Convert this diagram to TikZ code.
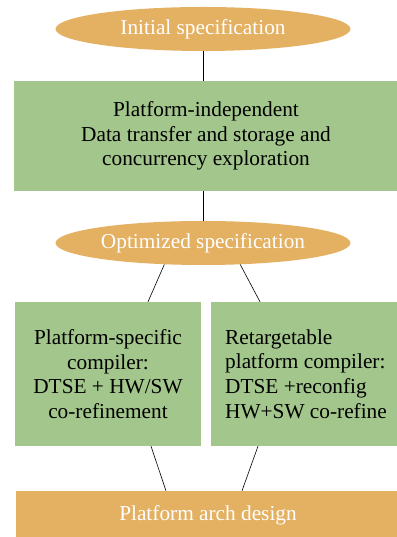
\documentclass[tikz,border=0pt]{standalone}
\usepackage{fontspec}
\setmainfont{Liberation Serif}
\usetikzlibrary{calc, shapes.geometric}
\definecolor{specorange}{RGB}{228,176,98}
\definecolor{stagegreen}{RGB}{162,198,139}

\begin{document}
\begin{tikzpicture}[x=1pt,y=1pt]

         %%%%%%%%%%%%%%%%%%%%%%%%%%%%%%%%%%%%%%%%%%%%%%%%%%%%%%%%%%%%%%%%%%%%%%
         % Parameter
         %%%%%%%%%%%%%%%%%%%%%%%%%%%%%%%%%%%%%%%%%%%%%%%%%%%%%%%%%%%%%%%%%%%%%%
         \def\boxfont{\fontsize{21.3}{24.6}\selectfont}
         \def\specwidth{295}
         \def\specheight{44}
         \def\colwidth{186}
         \def\colheight{144}

         % Stile fuer Ellipsen, Kaesten und Verbindungen
         \tikzset{
            spec/.style={
            ellipse, fill=specorange, text=white,
            minimum width=\specwidth pt, minimum height=\specheight pt,
            inner sep=0pt, font=\boxfont
            },
            stage/.style={
            rectangle, fill=stagegreen, text=black,
            inner sep=0pt, font=\boxfont
            },
            archbox/.style={
            rectangle, fill=specorange, text=white,
            inner sep=0pt, font=\boxfont
            },
            link/.style={black, line width=0.6pt}
         }

         \useasboundingbox (0,0) rectangle (396,537);

         %%%%%%%%%%%%%%%%%%%%%%%%%%%%%%%%%%%%%%%%%%%%%%%%%%%%%%%%%%%%%%%%%%%%%%
         % Oberer Teil
         %%%%%%%%%%%%%%%%%%%%%%%%%%%%%%%%%%%%%%%%%%%%%%%%%%%%%%%%%%%%%%%%%%%%%%
         \node[spec] (init) at (203,508) {Initial specification};

         \node[stage, align=center, minimum width=384pt, minimum height=110pt]
         (explore) at (206,401)
         {Platform-independent\\ Data transfer and storage and\\ concurrency exploration};

         \node[spec] (opt) at (203,294) {Optimized specification};

         \draw[link] (init.south) -- (init.south |- explore.north);
         \draw[link] (opt.north |- explore.south) -- (opt.north);

         %%%%%%%%%%%%%%%%%%%%%%%%%%%%%%%%%%%%%%%%%%%%%%%%%%%%%%%%%%%%%%%%%%%%%%
         % Zwei Compiler-Pfade
         %%%%%%%%%%%%%%%%%%%%%%%%%%%%%%%%%%%%%%%%%%%%%%%%%%%%%%%%%%%%%%%%%%%%%%
         \node[stage, align=center, minimum width=\colwidth pt, minimum height=\colheight pt]
         (specific) at (108,163)
         {Platform-specific\\ compiler:\\ DTSE + HW/SW\\ co-refinement};

         \node[stage, align=left, minimum width=\colwidth pt, minimum height=\colheight pt]
         (retarget) at (304,163)
         {\hspace*{4pt}Retargetable\\ \hspace*{4pt}platform compiler:\\ \hspace*{4pt}DTSE +reconfig\\ \hspace*{4pt}HW+SW co-refine};

         \draw[link] (opt.209) -- ($(specific.north)+(40,0)$);
         \draw[link] (opt.330) -- ($(retarget.north)+(-44,0)$);

         %%%%%%%%%%%%%%%%%%%%%%%%%%%%%%%%%%%%%%%%%%%%%%%%%%%%%%%%%%%%%%%%%%%%%%
         % Unten: Architektur
         %%%%%%%%%%%%%%%%%%%%%%%%%%%%%%%%%%%%%%%%%%%%%%%%%%%%%%%%%%%%%%%%%%%%%%
         \node[archbox, minimum width=384pt, minimum height=50pt]
         (arch) at (208,21) {\raisebox{5pt}{Platform arch design}};

         \draw[link] ($(specific.south)+(43,0)$) -- ($(arch.north)+(-42,0)$);
         \draw[link] ($(retarget.south)+(-46,0)$) -- ($(arch.north)+(34,0)$);

\end{tikzpicture}
\end{document}
